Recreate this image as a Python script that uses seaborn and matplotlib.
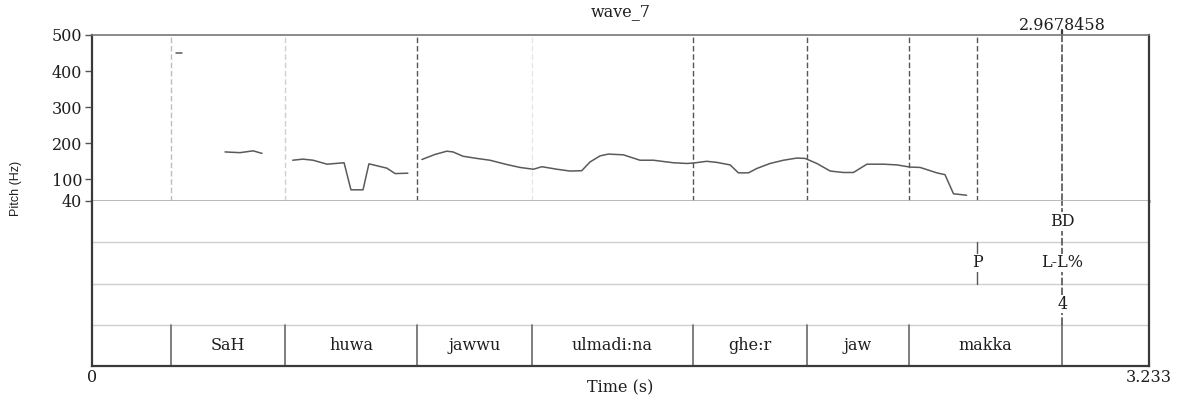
import numpy as np
import pandas as pd
import matplotlib
matplotlib.use("Agg")
import matplotlib.pyplot as plt
import seaborn as sns

# ---- data -------------------------------------------------------------
t_max = 3.233
cursor_time = 2.9678458

# pitch contour (s, Hz), split into voiced stretches
pitch_seg = ([0] * 2 + [1] * 7 + [2] * 11 + [3] * 46)
pitch_time = [
    0.257, 0.275,
    0.407, 0.428, 0.453, 0.477, 0.493, 0.508, 0.520,
    0.614, 0.645, 0.676, 0.719, 0.771, 0.792, 0.829, 0.847, 0.902, 0.927, 0.966,
    1.009, 1.049, 1.085, 1.104, 1.135, 1.177, 1.217, 1.269, 1.309, 1.350,
    1.376, 1.422, 1.462, 1.498, 1.523, 1.554, 1.579, 1.625, 1.676, 1.717,
    1.778, 1.819, 1.838, 1.880, 1.911, 1.952, 1.977, 2.008, 2.033, 2.074,
    2.115, 2.156, 2.181, 2.217, 2.258, 2.298, 2.329, 2.370, 2.421, 2.462,
    2.502, 2.533, 2.584, 2.609, 2.635, 2.675,
]
pitch_hz = [
    450, 450,
    176, 175, 174, 177, 179, 175, 172,
    153, 156, 153, 142, 146, 71, 71, 143, 131, 116, 117,
    155, 169, 178, 176, 164, 158, 153, 141, 133, 128,
    135, 128, 123, 124, 148, 165, 170, 168, 153, 153,
    146, 144, 145, 150, 147, 140, 118, 118, 130, 144,
    153, 159, 158, 144, 123, 119, 119, 142, 142, 140,
    134, 133, 118, 113, 60, 56,
]

# word tier
words = ["SaH", "huwa", "jawwu", "ulmadi:na", "ghe:r", "jaw", "makka"]
word_bounds = [0.2417, 0.5904, 0.9942, 1.346, 1.838, 2.187, 2.499, cursor_time]

# point tiers
bd_label = "BD"
tone_points = [2.707, cursor_time]
tone_labels = ["P", "L-L%"]
break_label = "4"

pitch_ticks = [40, 100, 200, 300, 400, 500]

# ---- styling ------------------------------------------------------------
sns.set_theme(style="white")
plt.rcParams["font.family"] = ["DejaVu Serif"]
dark = "#3a3a3a"
txt = "#1e1e1e"
curve_col = "#5a5a5a"
tier_line = "#cfcfcf"
fs = 11.5

df = pd.DataFrame({"time": pitch_time, "pitch": pitch_hz, "seg": pitch_seg})

fig = plt.figure(figsize=(11.78, 4.0), dpi=100)
left, width = 92 / 1178, (1149 - 92) / 1178
ax_p = fig.add_axes([left, 1 - 201 / 400, width, (201 - 35) / 400])
ax_t = fig.add_axes([left, 1 - 366 / 400, width, (366 - 201) / 400])

# ---- pitch panel --------------------------------------------------------
# interval boundaries drawn through the pitch panel
bound_shades = ["#bdbdbd", "#d0d0d0", "#555555", "#e6e6e6",
                "#555555", "#555555", "#555555"]
for b, c in zip(word_bounds[:-1], bound_shades):
    ax_p.axvline(b, color=c, lw=1.0, ls=(0, (4, 2)), zorder=1)
ax_p.axvline(tone_points[0], color="#555555", lw=1.0, ls=(0, (4, 2)), zorder=1)
ax_p.axvline(cursor_time, color="#444444", lw=1.1, ls=(0, (5, 1.5)), zorder=1)

sns.lineplot(data=df, x="time", y="pitch", units="seg", estimator=None,
             color=curve_col, lw=1.1, ax=ax_p, legend=False, zorder=3)

ax_p.set_xlim(0, t_max)
ax_p.set_ylim(40, 500)
ax_p.set_yticks(pitch_ticks)
ax_p.set_yticklabels([str(v) for v in pitch_ticks], fontsize=fs, color=txt)
ax_p.tick_params(axis="y", direction="out", length=5, width=1,
                 color="#555555", left=True, pad=2)
ax_p.set_xticks([])
ax_p.set_xlabel("")
ax_p.set_ylabel("")
for side in ["left", "right"]:
    ax_p.spines[side].set_color(dark)
    ax_p.spines[side].set_linewidth(1.6)
ax_p.spines["top"].set_color("#777777")
ax_p.spines["top"].set_linewidth(1.2)
ax_p.spines["bottom"].set_color("#b3b3b3")
ax_p.spines["bottom"].set_linewidth(2.0)

xtr = ax_p.get_xaxis_transform()
ax_p.text(t_max / 2, 1.14, "wave_7", transform=xtr, ha="center",
          va="center", fontsize=fs, color=txt)
ax_p.plot([cursor_time, cursor_time], [1.0, 1.03], transform=xtr,
          color=dark, lw=1.6, clip_on=False)
ax_p.text(cursor_time, 1.06, f"{cursor_time:.7f}", transform=xtr,
          ha="center", va="center", fontsize=fs, color=txt)

fig.text(0.014, 1 - 188 / 400, "Pitch (Hz)", rotation=90, ha="center",
         va="center", fontsize=9, color=txt,
         family=["Liberation Sans Narrow", "Liberation Sans", "DejaVu Sans"])

# ---- tier panel ---------------------------------------------------------
ax_t.set_xlim(0, t_max)
ax_t.set_ylim(0, 4)
ax_t.set_xticks([])
ax_t.set_yticks([])
for y in [1, 2, 3]:
    ax_t.axhline(y, color=tier_line, lw=1.0)
for side in ["left", "right", "bottom"]:
    ax_t.spines[side].set_color(dark)
    ax_t.spines[side].set_linewidth(1.6)
ax_t.spines["top"].set_visible(False)

# word intervals
for b in word_bounds:
    ax_t.plot([b, b], [0, 1], color="#6a6a6a", lw=1.2)
word_mid = [(a + b) / 2 for a, b in zip(word_bounds[:-1], word_bounds[1:])]
for m, w in zip(word_mid, words):
    ax_t.text(m, 0.5, w, ha="center", va="center", fontsize=fs, color=txt)

# cursor through the point tiers
ax_t.plot([cursor_time, cursor_time], [1, 4], color="#444444", lw=1.1,
          ls=(0, (5, 1.5)))

# point tiers
box = dict(boxstyle="square,pad=0.05", fc="white", ec="none")
ax_t.text(cursor_time, 3.5, bd_label, ha="center", va="center",
          fontsize=fs, color=txt, bbox=box)
for tp, lab in zip(tone_points, tone_labels):
    if tp != cursor_time:
        ax_t.plot([tp, tp], [2.0, 2.3], color="#555555", lw=1.0)
        ax_t.plot([tp, tp], [2.7, 3.0], color="#555555", lw=1.0)
    ax_t.text(tp, 2.5, lab, ha="center", va="center", fontsize=fs,
              color=txt, bbox=box)
ax_t.text(cursor_time, 1.5, break_label, ha="center", va="center",
          fontsize=fs, color=txt, bbox=box)

# time axis labels
ttr = ax_t.get_xaxis_transform()
ax_t.text(0, -0.067, "0", transform=ttr, ha="center", va="center",
          fontsize=fs, color=txt)
ax_t.text(t_max, -0.067, f"{t_max}", transform=ttr, ha="center",
          va="center", fontsize=fs, color=txt)
ax_t.text(t_max / 2, -0.135, "Time (s)", transform=ttr, ha="center",
          va="center", fontsize=fs, color=txt)

fig.savefig("out.png", dpi=100, facecolor="white")
